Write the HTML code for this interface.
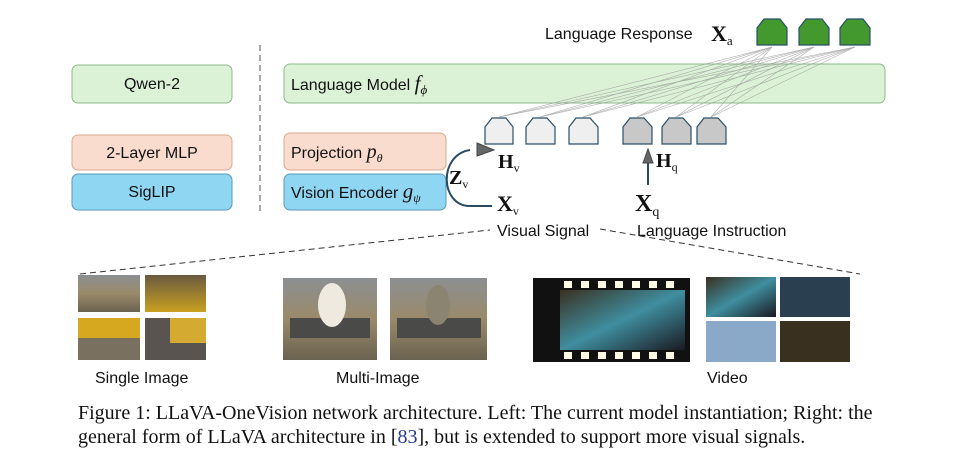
<!DOCTYPE html>
<html><head><meta charset="utf-8"><style>
body{margin:0;background:#fff;width:979px;height:459px;overflow:hidden}
svg{display:block}
.s{font-family:"Liberation Sans",sans-serif;font-size:16px;fill:#111}
.m{font-family:"Liberation Serif",serif;font-weight:bold;fill:#111}
.c{font-family:"Liberation Serif",serif;font-size:20px;fill:#111}
</style></head><body>
<svg width="979" height="459" viewBox="0 0 979 459" xmlns="http://www.w3.org/2000/svg">
<defs>
<linearGradient id="g1" x1="0" y1="0" x2="0" y2="1"><stop offset="0" stop-color="#8c8f92"/><stop offset=".5" stop-color="#9a8a6a"/><stop offset="1" stop-color="#6a6250"/></linearGradient>
<linearGradient id="g2" x1="0" y1="0" x2="1" y2="1"><stop offset="0" stop-color="#3a3020"/><stop offset=".5" stop-color="#3f8ea0"/><stop offset="1" stop-color="#1a1a20"/></linearGradient>
<linearGradient id="g3" x1="0" y1="0" x2="0" y2="1"><stop offset="0" stop-color="#6a5a40"/><stop offset="1" stop-color="#c9a020"/></linearGradient>
</defs>
<rect x="72" y="65" width="160" height="38" rx="6" fill="#dcf2d6" stroke="#8db88a"/>
<text x="152" y="89" class="s" text-anchor="middle">Qwen-2</text>
<rect x="72" y="135" width="160" height="35" rx="6" fill="#f9dccd" stroke="#d9a890"/>
<text x="152" y="158" class="s" text-anchor="middle">2-Layer MLP</text>
<rect x="72" y="174" width="160" height="36" rx="6" fill="#8fd6f2" stroke="#5a9ab8"/>
<text x="152" y="197" class="s" text-anchor="middle">SigLIP</text>
<line x1="260" y1="45" x2="260" y2="215" stroke="#555" stroke-dasharray="6,4"/>
<rect x="284" y="64" width="601" height="39" rx="6" fill="#dcf2d6" stroke="#8db88a"/>
<text x="291" y="90" class="s">Language Model <tspan font-family="Liberation Serif" font-style="italic" font-size="21">f</tspan><tspan font-family="Liberation Serif" font-style="italic" font-size="13" dy="4">ϕ</tspan></text>
<rect x="284" y="133" width="162" height="37" rx="6" fill="#f9dccd" stroke="#d9a890"/>
<text x="291" y="158" class="s">Projection <tspan font-family="Liberation Serif" font-style="italic" font-size="20">p</tspan><tspan font-family="Liberation Serif" font-style="italic" font-size="12" dy="4">θ</tspan></text>
<rect x="284" y="174" width="162" height="36" rx="6" fill="#8fd6f2" stroke="#5a9ab8"/>
<text x="291" y="198" class="s">Vision Encoder <tspan font-family="Liberation Serif" font-style="italic" font-size="21">g</tspan><tspan font-family="Liberation Serif" font-style="italic" font-size="12" dy="4">ψ</tspan></text>
<g stroke="#999" stroke-width=".6" opacity=".8">
<line x1="499" y1="117" x2="772" y2="47"/><line x1="499" y1="117" x2="814" y2="47"/>
<line x1="540" y1="117" x2="772" y2="47"/><line x1="540" y1="117" x2="814" y2="47"/><line x1="540" y1="117" x2="855" y2="47"/>
<line x1="583" y1="117" x2="772" y2="47"/><line x1="583" y1="117" x2="814" y2="47"/><line x1="583" y1="117" x2="855" y2="47"/>
<line x1="637" y1="117" x2="772" y2="47"/><line x1="637" y1="117" x2="814" y2="47"/><line x1="637" y1="117" x2="855" y2="47"/>
<line x1="676" y1="117" x2="772" y2="47"/><line x1="676" y1="117" x2="814" y2="47"/><line x1="676" y1="117" x2="855" y2="47"/>
<line x1="711" y1="117" x2="772" y2="47"/><line x1="711" y1="117" x2="814" y2="47"/><line x1="711" y1="117" x2="855" y2="47"/>
<line x1="499" y1="117" x2="855" y2="47"/>
</g>
<g stroke="#2a5068" stroke-width="1.2">
<path d="M485 144V127L492 118H506L513 127V144Z" fill="#efefef"/>
<path d="M526 144V127L533 118H547L555 127V144Z" fill="#efefef"/>
<path d="M569 144V127L576 118H590L598 127V144Z" fill="#efefef"/>
<path d="M623 144V127L630 118H644L652 127V144Z" fill="#c8c8c8"/>
<path d="M662 144V127L669 118H683L691 127V144Z" fill="#c8c8c8"/>
<path d="M697 144V127L704 118H718L726 127V144Z" fill="#c8c8c8"/>
<path d="M757 45V28L764 19H780L787 28V45Z" fill="#43992e"/>
<path d="M799 45V28L806 19H822L829 28V45Z" fill="#43992e"/>
<path d="M840 45V28L847 19H863L870 28V45Z" fill="#43992e"/>
</g>
<text x="545" y="39" class="s">Language Response</text>
<text x="711" y="41" class="m" font-size="22">X<tspan font-size="13" font-weight="normal" dy="4">a</tspan></text>
<path d="M492 206H470C440 206 438 155 470 150" fill="none" stroke="#2a4a60" stroke-width="2"/>
<path d="M477 143L494 150L477 156Z" fill="#666" stroke="#444"/>
<text x="449" y="184" class="m" font-size="20">Z<tspan font-size="12" font-weight="normal" dy="4">v</tspan></text>
<text x="498" y="168" class="m" font-size="20">H<tspan font-size="12" font-weight="normal" dy="4">v</tspan></text>
<text x="497" y="211" class="m" font-size="22">X<tspan font-size="12" font-weight="normal" dy="4">v</tspan></text>
<line x1="648" y1="185" x2="648" y2="160" stroke="#2a4a60" stroke-width="2"/>
<path d="M643 163L648 149L653 163Z" fill="#666" stroke="#444"/>
<text x="656" y="167" class="m" font-size="20">H<tspan font-size="12" font-weight="normal" dy="4">q</tspan></text>
<text x="635" y="211" class="m" font-size="24">X<tspan font-size="14" font-weight="normal" dy="5">q</tspan></text>
<text x="497" y="236" class="s">Visual Signal</text>
<text x="637" y="236" class="s">Language Instruction</text>
<g stroke="#333" stroke-dasharray="6,4" fill="none">
<line x1="80" y1="274" x2="490" y2="230"/><line x1="600" y1="229" x2="860" y2="274"/>
</g>
<rect x="78" y="275" width="62" height="37" fill="url(#g1)"/>
<rect x="145" y="275" width="61" height="37" fill="url(#g3)"/>
<rect x="78" y="318" width="62" height="42" fill="#7a7060"/><rect x="78" y="318" width="62" height="20" fill="#d6a820"/>
<rect x="145" y="318" width="61" height="42" fill="#5a5450"/><rect x="170" y="318" width="36" height="25" fill="#d4aa30"/>
<rect x="283" y="278" width="94" height="82" fill="url(#g1)"/>
<rect x="390" y="278" width="97" height="82" fill="url(#g1)"/>
<rect x="290" y="318" width="80" height="20" fill="#4a4a48"/><rect x="397" y="318" width="84" height="20" fill="#4a4a48"/>
<ellipse cx="332" cy="305" rx="14" ry="22" fill="#eeeae0"/>
<ellipse cx="438" cy="305" rx="12" ry="20" fill="#8a8470"/>
<rect x="533" y="278" width="157" height="84" fill="#111"/>
<g fill="#fffbe6"><rect x="564" y="281" width="8" height="7"/><rect x="581" y="281" width="8" height="7"/><rect x="598" y="281" width="8" height="7"/><rect x="615" y="281" width="8" height="7"/><rect x="632" y="281" width="8" height="7"/><rect x="649" y="281" width="8" height="7"/><rect x="666" y="281" width="8" height="7"/>
<rect x="564" y="352" width="8" height="7"/><rect x="581" y="352" width="8" height="7"/><rect x="598" y="352" width="8" height="7"/><rect x="615" y="352" width="8" height="7"/><rect x="632" y="352" width="8" height="7"/><rect x="649" y="352" width="8" height="7"/><rect x="666" y="352" width="8" height="7"/></g>
<rect x="560" y="290" width="125" height="60" fill="url(#g2)"/>
<rect x="706" y="277" width="70" height="40" fill="url(#g2)"/><rect x="780" y="277" width="70" height="40" fill="#2a4050"/>
<rect x="706" y="321" width="70" height="41" fill="#8aa8c8"/><rect x="780" y="321" width="70" height="41" fill="#3a3020"/>
<text x="95" y="383" class="s" font-size="15">Single Image</text>
<text x="336" y="383" class="s" font-size="15">Multi-Image</text>
<text x="707" y="383" class="s" font-size="15">Video</text>
<text x="78" y="419" class="c">Figure 1: LLaVA-OneVision network architecture. Left: The current model instantiation; Right: the</text>
<text x="78" y="443" class="c">general form of LLaVA architecture in [<tspan fill="#2a3a8a">83</tspan>], but is extended to support more visual signals.</text>
</svg>
</body></html>
